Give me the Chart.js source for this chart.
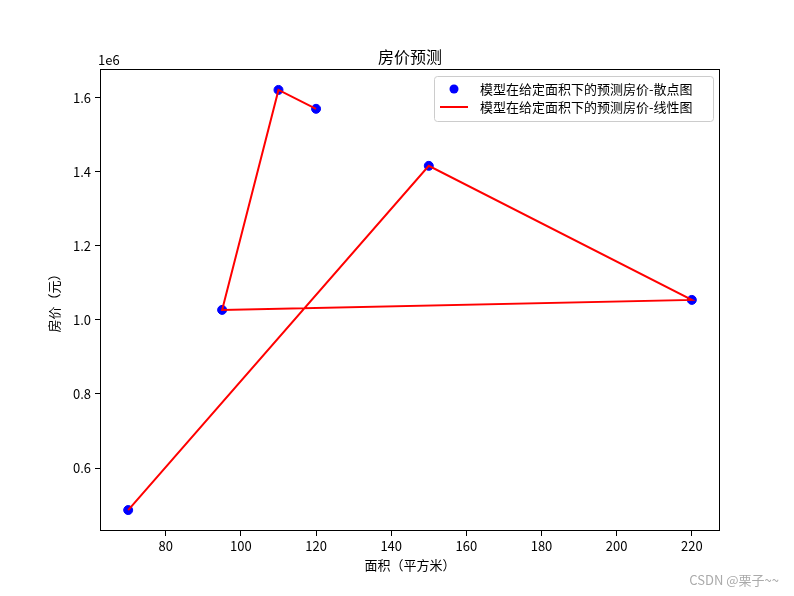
<!DOCTYPE html>
<html>
<head>
<meta charset="utf-8">
<script src="https://cdn.jsdelivr.net/npm/chart.js@4.4.0/dist/chart.umd.min.js"></script>
<style>
  html, body { margin: 0; padding: 0; background: #fff; }
  #wrap { width: 794px; height: 596px; }
</style>
</head>
<body>
<div id="wrap"><canvas id="chart" width="794" height="596"></canvas></div>
<script>
// data (area in m², price in yuan)
const areas = [70, 150, 220, 95, 110, 120];
const prices = [486500, 1416000, 1054000, 1027000, 1621000, 1570000];
const xTicks = [80, 100, 120, 140, 160, 180, 200, 220];
const yTicks = [600000, 800000, 1000000, 1200000, 1400000, 1600000];

const FONT = '"SimHei", "Noto Sans CJK SC", sans-serif';
const points = areas.map((a, i) => ({ x: a, y: prices[i] }));

// frame, title, axis labels, offset text, legend and watermark
const decorations = {
    id: 'decorations',
    afterDraw(chart) {
        const ctx = chart.ctx;
        const a = chart.chartArea;
        ctx.save();
        ctx.strokeStyle = '#000';
        ctx.lineWidth = 1;
        ctx.strokeRect(a.left + 0.5, a.top + 0.5, a.right - a.left - 1, a.bottom - a.top - 1);

        ctx.fillStyle = '#000';
        ctx.textAlign = 'center';
        ctx.textBaseline = 'alphabetic';
        ctx.font = '16px ' + FONT;
        ctx.fillText('房价预测', (a.left + a.right) / 2, 63);

        ctx.font = '13px ' + FONT;
        ctx.fillText('面积（平方米）', (a.left + a.right) / 2, 570);
        ctx.textAlign = 'left';
        ctx.fillText('1e6', a.left - 2, 65);

        ctx.save();
        ctx.translate(59, (a.top + a.bottom) / 2);
        ctx.rotate(-Math.PI / 2);
        ctx.textAlign = 'center';
        ctx.fillText('房价（元）', 0, 0);
        ctx.restore();

        // legend box
        const lx = 434, ly = 76, lw = 279, lh = 45;
        ctx.fillStyle = 'rgba(255,255,255,0.8)';
        ctx.strokeStyle = '#cccccc';
        ctx.beginPath();
        ctx.roundRect(lx + 0.5, ly + 0.5, lw, lh, 3);
        ctx.fill();
        ctx.stroke();

        ctx.fillStyle = '#0000ff';
        ctx.beginPath();
        ctx.arc(454, 89, 4.5, 0, Math.PI * 2);
        ctx.fill();
        ctx.strokeStyle = '#ff0000';
        ctx.lineWidth = 2;
        ctx.beginPath();
        ctx.moveTo(440, 107);
        ctx.lineTo(468, 107);
        ctx.stroke();

        ctx.fillStyle = '#000';
        ctx.textAlign = 'left';
        ctx.textBaseline = 'middle';
        ctx.font = '13px ' + FONT;
        ctx.fillText('模型在给定面积下的预测房价-散点图', 480, 89);
        ctx.fillText('模型在给定面积下的预测房价-线性图', 480, 107);

        ctx.fillStyle = '#aaaaaa';
        ctx.textAlign = 'right';
        ctx.font = '13px ' + FONT;
        ctx.fillText('CSDN @栗子~~', 779, 580);
        ctx.restore();
    }
};

new Chart(document.getElementById('chart'), {
    type: 'scatter',
    data: {
        datasets: [{
            label: '模型在给定面积下的预测房价-散点图',
            data: points,
            backgroundColor: '#0000ff',
            borderColor: '#0000ff',
            pointRadius: 4.5,
            pointHoverRadius: 4.5,
            showLine: false,
            order: 1
        }, {
            label: '模型在给定面积下的预测房价-线性图',
            data: points,
            type: 'line',
            borderColor: '#ff0000',
            borderWidth: 2,
            pointRadius: 0,
            fill: false,
            tension: 0,
            order: 0
        }]
    },
    options: {
        responsive: false,
        animation: false,
        devicePixelRatio: 1,
        layout: { padding: { left: 0, right: 74, top: 69, bottom: 0 } },
        plugins: {
            legend: { display: false },
            title: { display: false },
            tooltip: { enabled: false }
        },
        scales: {
            x: {
                type: 'linear',
                min: 62.5,
                max: 227.5,
                afterBuildTicks: s => { s.ticks = xTicks.map(v => ({ value: v })); },
                afterFit: s => { s.height = 65; },
                grid: { drawOnChartArea: false, drawTicks: true, tickLength: 5, color: '#000' },
                border: { display: false },
                ticks: { color: '#000', font: { family: FONT, size: 13 }, padding: 2, maxRotation: 0 }
            },
            y: {
                type: 'linear',
                min: 430000,
                max: 1677500,
                afterBuildTicks: s => { s.ticks = yTicks.map(v => ({ value: v })); },
                afterFit: s => { s.width = 100; },
                grid: { drawOnChartArea: false, drawTicks: true, tickLength: 5, color: '#000' },
                border: { display: false },
                ticks: {
                    color: '#000',
                    font: { family: FONT, size: 13 },
                    padding: 4,
                    callback: v => (v / 1e6).toFixed(1)
                }
            }
        }
    },
    plugins: [decorations]
});
</script>
</body>
</html>
